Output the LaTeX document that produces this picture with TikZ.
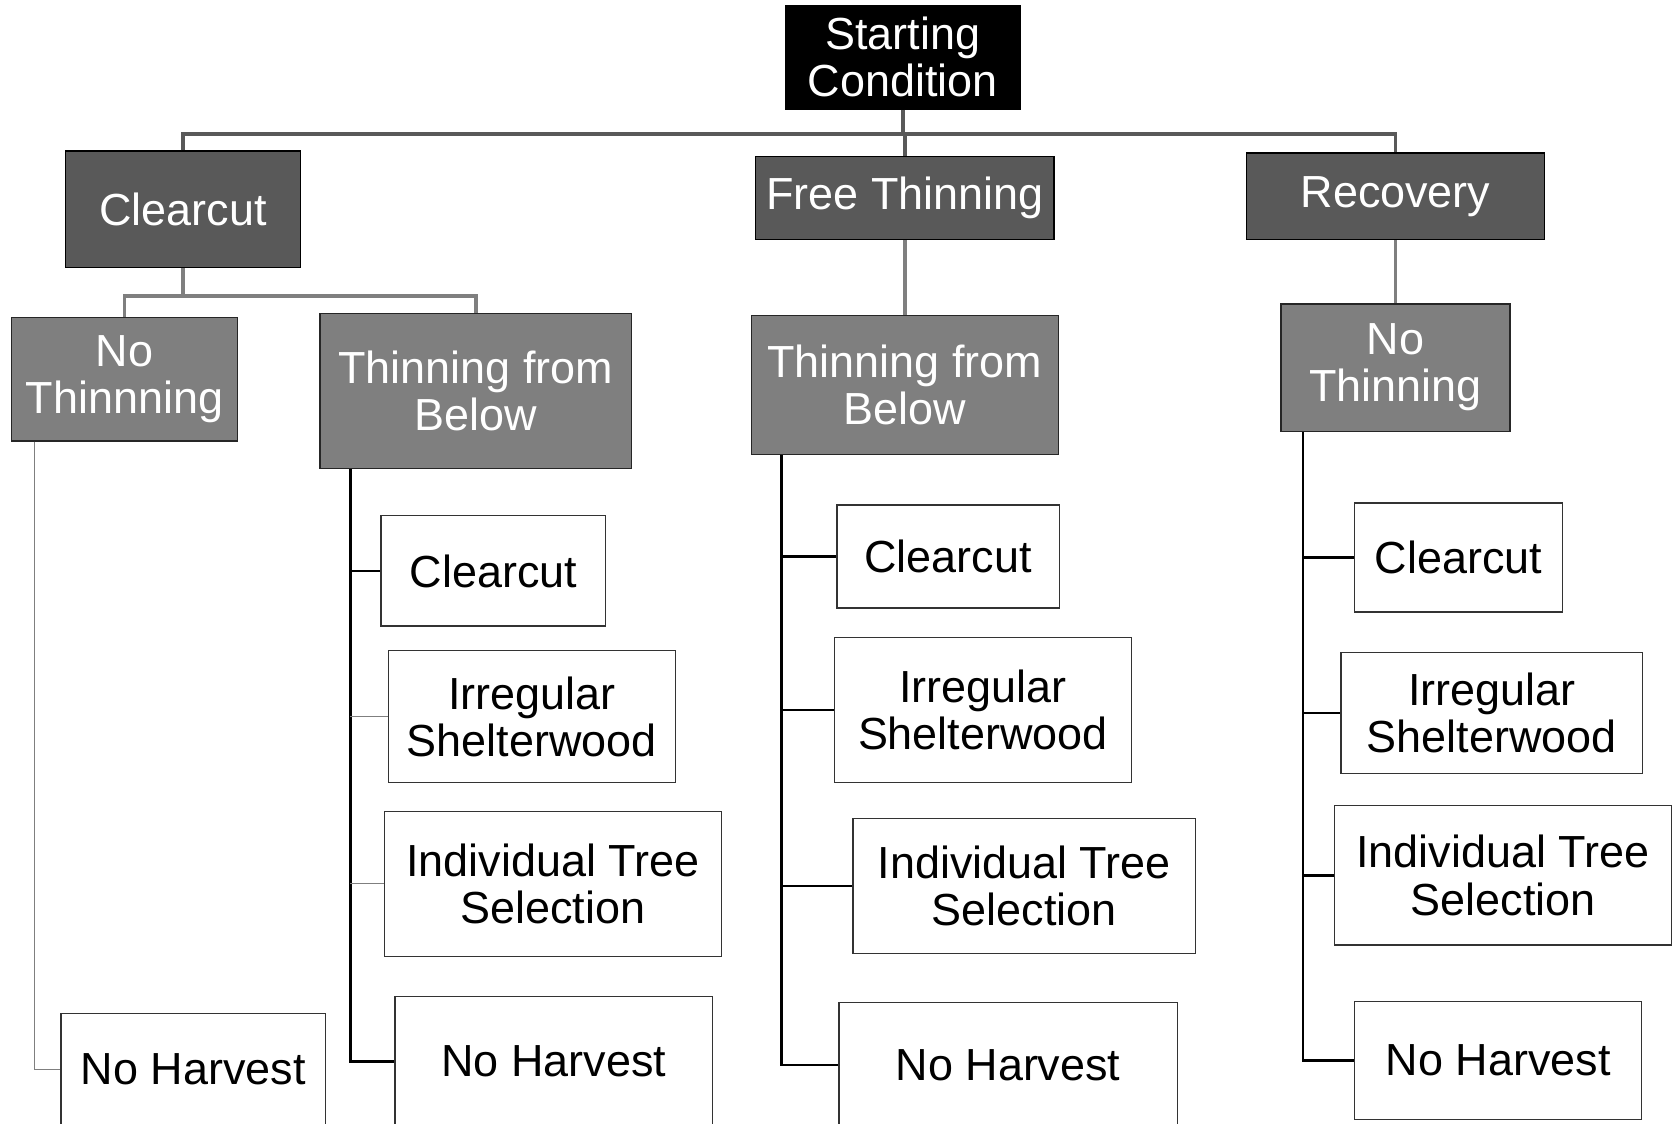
\documentclass[tikz,border=0pt]{standalone}
\usepackage{fontspec}
\setmainfont{Liberation Sans}
\usetikzlibrary{calc}
\definecolor{lvlone}{HTML}{595959}
\definecolor{lvltwo}{HTML}{7F7F7F}
\begin{document}
\begin{tikzpicture}[x=1pt,y=-1pt,
  every node/.style={font=\fontsize{42}{44}\selectfont, align=center, inner sep=0pt, rectangle},
  rootbox/.style={fill=black, draw=black, line width=1.2pt, text=white},
  onebox/.style={fill=lvlone, draw=black, line width=1.2pt, text=white},
  twobox/.style={fill=lvltwo, draw=black!85, line width=1.2pt, text=white},
  leafbox/.style={fill=white, draw=black!80, line width=1.2pt, text=black},
  sz/.style 2 args={minimum width=#1, minimum height=#2},
  connzero/.style={draw=lvlone, line width=3.6pt},
  connone/.style={draw=lvltwo, line width=3.4pt},
  leafthick/.style={draw=black, line width=2.2pt},
  leafthin/.style={draw=lvltwo, line width=1pt},
]
\useasboundingbox (0,0) rectangle (1568,1050);
\fill[white] (0,0) rectangle (1568,1050);

% root
\node[rootbox, sz={219}{97}] (SC) at (843.5,53.5) {Starting\\Condition};

% level 1
\node[onebox, sz={220}{109}] (C1) at (171,195.5) {Clearcut};
\node[onebox, sz={279}{78}]  (FT) at (845.5,185) {Free Thinning};
\node[onebox, sz={278}{81}]  (R)  at (1304,183.5) {Recovery};

% level 2
\node[twobox, sz={211}{115}] (NT1) at (116.5,354.5) {No\\Thinnning};
\node[twobox, sz={291}{145}] (TB1) at (444.5,365.5) {Thinning from\\Below};
\node[twobox, sz={287}{130}] (TB2) at (845.5,360) {Thinning from\\Below};
\node[twobox, sz={214}{119}] (NT3) at (1304,343.5) {No\\Thinning};

% leaves under No Thinnning (left)
\node[leafbox, sz={247}{104}] (n1) at (180.5,999) {No Harvest};

% leaves under Thinning from Below (left)
\node[leafbox, sz={210}{103}] (a1) at (461,533.5) {Clearcut};
\node[leafbox, sz={268}{123}] (a2) at (497,669.5) {Irregular\\Shelterwood};
\node[leafbox, sz={315}{136}] (a3) at (516.5,826) {Individual Tree\\Selection};
\node[leafbox, sz={297}{122}] (a4) at (517.5,992) {No Harvest};

% leaves under Thinning from Below (middle)
\node[leafbox, sz={208}{96}]  (b1) at (886,520) {Clearcut};
\node[leafbox, sz={277}{135}] (b2) at (918.5,663.5) {Irregular\\Shelterwood};
\node[leafbox, sz={320}{126}] (b3) at (957,828) {Individual Tree\\Selection};
\node[leafbox, sz={316}{116}] (b4) at (942,995) {No Harvest};

% leaves under No Thinning (right)
\node[leafbox, sz={194}{102}] (c1) at (1363,521) {Clearcut};
\node[leafbox, sz={282}{113}] (c2) at (1394,666.5) {Irregular\\Shelterwood};
\node[leafbox, sz={315}{130}] (c3) at (1404.5,818) {Individual Tree\\Selection};
\node[leafbox, sz={268}{110}] (c4) at (1400,991) {No Harvest};

% root connectors
\coordinate (bar0) at ($(SC.south)+(0,23)$);
\draw[connzero] (SC.south) -- (bar0);
\draw[connzero] (C1.north) |- (bar0) -| (R.north);
\draw[connzero] (bar0) -| (FT.north);

% level 1 -> level 2
\coordinate (bar1) at ($(C1.south)+(0,26)$);
\draw[connone] (C1.south) -- (bar1);
\draw[connone] (NT1.north) |- (bar1) -| (TB1.north);
\draw[connone] (FT.south) -- (TB2.north);
\draw[connone] (R.south) -- (NT3.north);

% trunks
\coordinate (tn1) at ($(NT1.south west)+(22,0)$);
\coordinate (ta) at ($(TB1.south west)+(29,0)$);
\coordinate (tb) at ($(TB2.south west)+(29,0)$);
\coordinate (tc) at ($(NT3.south west)+(21,0)$);

\draw[leafthin] (tn1) |- (n1.west);

\draw[leafthick] (ta) |- (a4.west);
\draw[leafthick] (ta |- a1.west) -- (a1.west);
\draw[leafthin] (ta |- a2.west) -- (a2.west);
\draw[leafthin] (ta |- a3.west) -- (a3.west);

\draw[leafthick] (tb) |- (b4.west);
\draw[leafthick] (tb |- b1.west) -- (b1.west);
\draw[leafthick] (tb |- b2.west) -- (b2.west);
\draw[leafthick] (tb |- b3.west) -- (b3.west);

\draw[leafthick] (tc) |- (c4.west);
\draw[leafthick] (tc |- c1.west) -- (c1.west);
\draw[leafthick] (tc |- c2.west) -- (c2.west);
\draw[leafthick] (tc |- c3.west) -- (c3.west);
\end{tikzpicture}
\end{document}
